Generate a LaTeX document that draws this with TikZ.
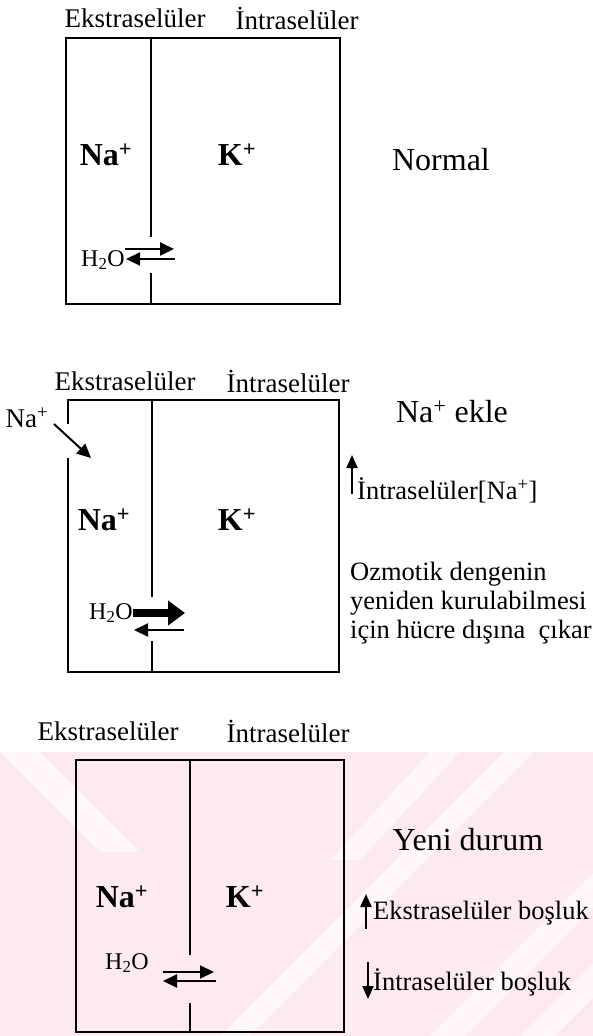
\documentclass[tikz,border=0pt]{standalone}
\usepackage{fontspec}
\setmainfont{Liberation Serif}
\usetikzlibrary{arrows.meta}
\definecolor{wpink}{RGB}{252,234,238}
\definecolor{wlight}{RGB}{254,246,247}
\tikzset{
  lbl/.style={inner sep=0pt,font=\fontsize{27}{31}\selectfont},
  ion/.style={inner sep=0pt,font=\bfseries\fontsize{32}{36}\selectfont},
  ttl/.style={inner sep=0pt,font=\fontsize{32}{36}\selectfont},
  side/.style={inner sep=0pt,font=\fontsize{26.5}{29}\selectfont},
  hwo/.style={inner sep=0pt,font=\fontsize{24}{28}\selectfont},
  wall/.style={line width=2.6pt},
  thinarr/.style={line width=2pt,-{Triangle[length=14pt,width=13pt]}},
  thickarr/.style={line width=8pt,-{Triangle[length=17pt,width=24pt]}},
  vert/.style={line width=2pt,-{Triangle[length=13pt,width=11pt]}},
}
\begin{document}
\begin{tikzpicture}[x=1pt,y=-1pt]
\useasboundingbox (0,0) rectangle (593,1036);
% watermark
\fill[wpink] (0,752) rectangle (593,1036);
\begin{scope}
\clip (0,752) rectangle (593,1036);
\fill[wlight] (0,752) -- (40,752) -- (140,852) -- (100,852) -- cycle;
\fill[wlight] (220,1036) -- (250,1036) -- (534,752) -- (504,752) -- cycle;
\fill[wlight] (330,860) -- (360,860) -- (460,752) -- (430,752) -- cycle;
\fill[wlight] (430,1036) -- (465,1036) -- (593,908) -- (593,873) -- cycle;
\fill[wlight] (520,1036) -- (555,1036) -- (593,998) -- (593,963) -- cycle;
\end{scope}

% ---------- Panel 1 ----------
\node[lbl] (e1) at (135,18) {Ekstraselüler};
\node[lbl] (i1) at (297,18) {İntraselüler};
\draw[wall] (66,38) rectangle (340,304);
\coordinate (d1a) at (151,38); \coordinate (d1b) at (151,237);
\coordinate (d1c) at (151,273); \coordinate (d1d) at (151,304);
\draw[wall] (d1a) -- (d1b); \draw[wall] (d1c) -- (d1d);
\node[ion] (na1) at (106,155) {Na\textsuperscript{+}};
\node[ion] (k1) at (237,155) {K\textsuperscript{+}};
\node[ttl] (n1) at (441,160) {Normal};
\node[hwo] (h1) at (103,260) {H\textsubscript{2}O};
\coordinate (a1s) at (125,249); \coordinate (a1e) at (174,249);
\coordinate (b1s) at (175,259); \coordinate (b1e) at (126,259);
\draw[thinarr] (a1s) -- (a1e);
\draw[thinarr] (b1s) -- (b1e);

% ---------- Panel 2 ----------
\node[lbl] (e2) at (125,381) {Ekstraselüler};
\node[lbl] (i2) at (288,381) {İntraselüler};
\draw[wall] (68,424) -- (68,400) -- (339,400) -- (339,672) -- (68,672) -- (68,458);
\coordinate (d2a) at (152,400); \coordinate (d2b) at (152,597);
\coordinate (d2c) at (152,641); \coordinate (d2d) at (152,672);
\draw[wall] (d2a) -- (d2b); \draw[wall] (d2c) -- (d2d);
\node[lbl] (nain) at (27,418) {Na\textsuperscript{+}};
\coordinate (nas) at (54,424);
\coordinate (nae) at (91,458);
\draw[thinarr] (nas) -- (nae);
\node[ion] (na2) at (104,520) {Na\textsuperscript{+}};
\node[ion] (k2) at (237,520) {K\textsuperscript{+}};
\node[ttl] (ek) at (452,412) {Na\textsuperscript{+} ekle};
\coordinate (u2s) at (352,494); \coordinate (u2e) at (352,455);
\draw[vert] (u2s) -- (u2e);
\node[side,anchor=west] (inna) at (357,490) {İntraselüler[Na\textsuperscript{+}]};
\node[side,anchor=west,align=left] (oz) at (350,603) {Ozmotik dengenin\\yeniden kurulabilmesi\\için hücre dışına\ \ çıkar};
\node[hwo] (h2) at (111,613) {H\textsubscript{2}O};
\coordinate (a2s) at (133,613); \coordinate (a2e) at (185,613);
\coordinate (b2s) at (184,630); \coordinate (b2e) at (134,630);
\draw[thickarr] (a2s) -- (a2e);
\draw[thinarr] (b2s) -- (b2e);

% ---------- Panel 3 ----------
\node[lbl] (e3) at (108,731) {Ekstraselüler};
\node[lbl] (i3) at (288,731) {İntraselüler};
\draw[wall] (76,760) rectangle (344,1032);
\coordinate (d3a) at (190,760); \coordinate (d3b) at (190,955);
\coordinate (d3c) at (190,1003); \coordinate (d3d) at (190,1032);
\draw[wall] (d3a) -- (d3b); \draw[wall] (d3c) -- (d3d);
\node[ion] (na3) at (122,897) {Na\textsuperscript{+}};
\node[ion] (k3) at (245,897) {K\textsuperscript{+}};
\node[ttl] (yd) at (468,840) {Yeni durum};
\coordinate (u3s) at (366,929); \coordinate (u3e) at (366,894);
\draw[vert] (u3s) -- (u3e);
\node[side,anchor=west] (eb) at (373,913) {Ekstraselüler boşluk};
\coordinate (v3s) at (368,962); \coordinate (v3e) at (368,999);
\draw[vert] (v3s) -- (v3e);
\node[side,anchor=west] (ib) at (373,982) {İntraselüler boşluk};
\node[hwo] (h3) at (127,963) {H\textsubscript{2}O};
\coordinate (a3s) at (163,972); \coordinate (a3e) at (214,972);
\coordinate (b3s) at (216,981); \coordinate (b3e) at (163,981);
\draw[thinarr] (a3s) -- (a3e);
\draw[thinarr] (b3s) -- (b3e);
\end{tikzpicture}
\end{document}
